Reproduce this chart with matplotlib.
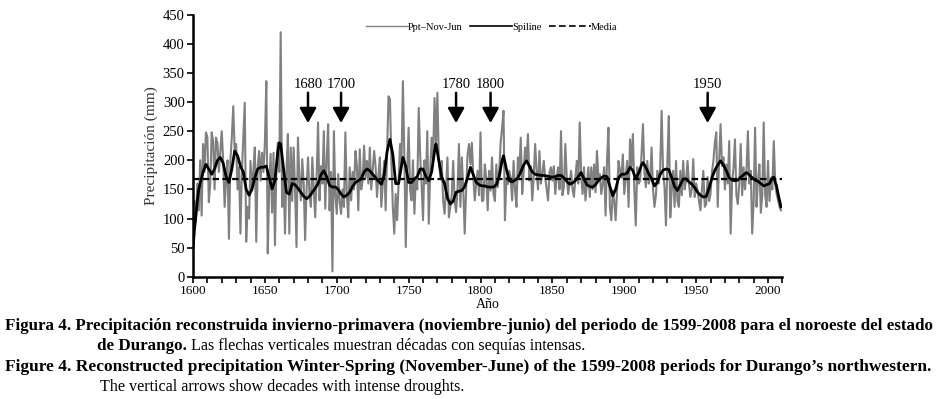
import numpy as np
import matplotlib
matplotlib.use("Agg")
import matplotlib.pyplot as plt
from matplotlib.lines import Line2D

plt.rcParams['font.family'] = ['Liberation Serif', 'DejaVu Serif']

# annual reconstructed precipitation (mm), one row per decade, 1600s ... 2000s
ppt = [
    55, 130, 95, 160, 114, 200, 105, 228, 180, 248,      # 1600s
    240, 128, 160, 248, 233, 150, 239, 230, 180, 215,    # 1610s
    250, 199, 120, 165, 200, 65, 199, 240, 293, 215,     # 1620s
    228, 150, 188, 74, 180, 239, 299, 60, 120, 100,      # 1630s
    199, 150, 182, 222, 60, 190, 216, 165, 213, 180,     # 1640s
    230, 336, 40, 150, 211, 110, 213, 54, 190, 230,      # 1650s
    180, 420, 120, 171, 74, 180, 245, 74, 222, 130,      # 1660s
    222, 150, 51, 239, 170, 131, 202, 160, 63, 150,      # 1670s
    205, 140, 120, 205, 150, 102, 170, 265, 131, 190,    # 1680s
    160, 250, 117, 200, 262, 114, 180, 9, 250, 140,      # 1690s
    108, 176, 130, 108, 150, 120, 248, 140, 102, 188,    # 1700s
    131, 180, 150, 216, 190, 114, 219, 150, 165, 225,    # 1710s
    170, 199, 160, 222, 150, 182, 216, 190, 137, 175,    # 1720s
    205, 120, 160, 199, 114, 210, 310, 305, 200, 120,    # 1730s
    74, 142, 97, 160, 228, 190, 336, 210, 51, 180,       # 1740s
    256, 150, 131, 200, 108, 170, 150, 290, 210, 160,    # 1750s
    97, 200, 160, 250, 91, 180, 239, 200, 307, 230,      # 1760s
    316, 200, 171, 199, 130, 108, 150, 205, 102, 120,    # 1770s
    140, 199, 130, 111, 150, 228, 120, 205, 150, 74,     # 1780s
    150, 210, 228, 193, 230, 170, 131, 160, 182, 140,    # 1790s
    248, 130, 131, 193, 170, 114, 182, 148, 205, 142,    # 1800s
    130, 193, 154, 180, 230, 256, 285, 97, 170, 159,     # 1810s
    182, 170, 131, 199, 150, 120, 205, 180, 239, 142,    # 1820s
    180, 222, 200, 245, 165, 190, 131, 170, 228, 182,    # 1830s
    150, 216, 160, 176, 199, 170, 150, 131, 180, 188,    # 1840s
    165, 190, 142, 170, 188, 150, 250, 140, 154, 228,    # 1850s
    170, 142, 160, 182, 150, 137, 170, 199, 160, 265,    # 1860s
    175, 142, 188, 131, 160, 188, 137, 188, 150, 193,    # 1870s
    145, 216, 170, 176, 142, 160, 188, 105, 200, 256,    # 1880s
    120, 97, 148, 130, 97, 150, 199, 182, 170, 210,      # 1890s
    142, 170, 199, 120, 236, 190, 245, 150, 88, 188,     # 1900s
    160, 165, 210, 262, 180, 154, 199, 160, 171, 222,    # 1910s
    150, 120, 140, 182, 160, 188, 285, 180, 154, 88,     # 1920s
    200, 276, 102, 150, 182, 120, 199, 130, 120, 182,    # 1930s
    140, 199, 150, 165, 199, 160, 137, 150, 202, 137,    # 1940s
    160, 148, 130, 114, 150, 182, 120, 125, 171, 130,    # 1950s
    142, 180, 199, 230, 248, 120, 200, 262, 190, 205,    # 1960s
    150, 193, 160, 233, 74, 160, 188, 236, 140, 125,     # 1970s
    160, 228, 140, 188, 150, 182, 250, 160, 182, 74,     # 1980s
    130, 256, 120, 165, 193, 110, 140, 265, 142, 120,    # 1990s
    199, 130, 165, 150, 233, 160, 142, 131, 120, 114,    # 2000s
]
years = np.arange(1600, 1600 + len(ppt))

# spline values
spl_years = [1600, 1601, 1602, 1603, 1604, 1605, 1607, 1609, 1611, 1613, 1615, 1617, 1619,
             1621, 1623, 1625, 1627, 1629, 1631, 1633, 1635, 1637, 1639, 1641, 1643, 1645,
             1647, 1649, 1651, 1653, 1655, 1657, 1659, 1660, 1661, 1663, 1665, 1667, 1669,
             1671, 1673, 1675, 1677, 1679, 1681, 1683, 1685, 1687, 1689, 1691, 1693, 1695,
             1697, 1699, 1701, 1703, 1705, 1707, 1709, 1711, 1713, 1715, 1717, 1719, 1721,
             1723, 1725, 1727, 1729, 1731, 1733, 1735, 1737, 1739, 1741, 1743, 1745, 1746,
             1748, 1750, 1752, 1754, 1756, 1758, 1760, 1762, 1764, 1766, 1768, 1769, 1771,
             1773, 1775, 1777, 1779, 1781, 1783, 1785, 1787, 1789, 1791, 1793, 1795, 1797,
             1799, 1801, 1803, 1805, 1807, 1809, 1811, 1813, 1815, 1816, 1818, 1820, 1822,
             1824, 1826, 1828, 1830, 1832, 1834, 1836, 1838, 1840, 1842, 1844, 1846, 1848,
             1850, 1852, 1854, 1856, 1858, 1860, 1862, 1864, 1866, 1868, 1870, 1872, 1874,
             1876, 1878, 1880, 1882, 1884, 1886, 1888, 1890, 1892, 1894, 1896, 1898, 1900,
             1902, 1904, 1906, 1908, 1910, 1912, 1913, 1915, 1917, 1919, 1921, 1923, 1925,
             1927, 1929, 1931, 1933, 1935, 1937, 1939, 1941, 1943, 1945, 1947, 1949, 1951,
             1953, 1955, 1957, 1959, 1961, 1963, 1965, 1967, 1969, 1971, 1973, 1975, 1977,
             1979, 1981, 1983, 1985, 1987, 1989, 1991, 1993, 1995, 1997, 1999, 2001, 2003,
             2004, 2006, 2007, 2009]
spl_vals = [50, 80, 105, 130, 150, 160, 180, 193, 185, 176, 185, 200, 205,
            195, 172, 162, 185, 216, 208, 190, 180, 150, 140, 150, 170, 185,
            188, 188, 190, 170, 151, 165, 215, 230, 228, 185, 145, 142, 160,
            158, 152, 145, 138, 134, 138, 145, 152, 160, 175, 182, 172, 157,
            154, 154, 150, 142, 137, 140, 145, 155, 162, 165, 168, 180, 185,
            182, 176, 170, 164, 159, 175, 215, 236, 210, 160, 160, 190, 205,
            190, 162, 162, 168, 172, 185, 185, 172, 165, 180, 215, 228, 200,
            171, 160, 135, 125, 130, 145, 147, 148, 155, 170, 188, 175, 162,
            158, 156, 156, 154, 154, 154, 158, 172, 200, 208, 185, 165, 163,
            166, 170, 180, 192, 199, 190, 180, 176, 175, 174, 174, 173, 172,
            171, 172, 174, 174, 170, 164, 159, 161, 165, 172, 179, 168, 158,
            155, 154, 158, 165, 170, 173, 172, 155, 139, 150, 170, 176, 176,
            178, 188, 182, 168, 178, 192, 196, 188, 177, 168, 156, 162, 176,
            183, 185, 184, 170, 155, 148, 158, 168, 168, 163, 159, 153, 145,
            140, 137, 138, 152, 170, 183, 192, 199, 192, 182, 170, 166, 165,
            166, 171, 175, 179, 175, 170, 166, 164, 160, 156, 158, 160, 170,
            171, 155, 142, 120]

media = 168

drought_x = [1680, 1703, 1783, 1807, 1958]
drought_labels = ['1680', '1700', '1780', '1800', '1950']

grey = '#808080'

fig = plt.figure(figsize=(9.36, 3.99), dpi=100)
ax = fig.add_axes([193 / 936, 122.3 / 399, 589.4 / 936, 261.9 / 399])

ax.plot(years, ppt, color=grey, lw=1.5, zorder=1)
ax.plot([1600, 2010], [media, media], color='black', lw=1.6, ls=(0, (2.9, 1.5)), zorder=2)
ax.plot(spl_years, spl_vals, color='black', lw=2.0, zorder=3)

ax.set_xlim(1600, 2010)
ax.set_ylim(0, 450)
ax.set_xticks(range(1600, 2001, 50))
ax.set_xticks(range(1600, 2011, 10), minor=True)
ax.set_yticks(range(0, 451, 50))
for s in ['top', 'right']:
    ax.spines[s].set_visible(False)
for s in ['left', 'bottom']:
    ax.spines[s].set_linewidth(1.8)
ax.tick_params(which='both', direction='out', length=4, width=1.2, pad=2)
ax.tick_params(axis='y', labelsize=10.5)
ax.tick_params(axis='x', labelsize=9.5)

ax.set_ylabel('Precipitación (mm)', fontsize=11, color='#333333', labelpad=3)
ax.set_xlabel('Año', fontsize=10, labelpad=1)

# drought arrows
for x, lab in zip(drought_x, drought_labels):
    ax.annotate('', xy=(x, 264), xytext=(x, 316),
                arrowprops=dict(arrowstyle='-|>,head_width=0.5,head_length=0.9',
                                lw=1.8, color='black', shrinkA=0, shrinkB=0))
    ax.text(x, 331, lab, ha='center', va='center', fontsize=10.5)

handles = [Line2D([], [], color=grey, lw=1),
           Line2D([], [], color='black', lw=1.2),
           Line2D([], [], color='black', lw=1.2, ls=(0, (4, 2)))]
ax.legend(handles, ['Ppt\u2013Nov-Jun', 'Spiline', 'Media'], ncol=3, frameon=False,
          fontsize=7.5, handlelength=4.0, handletextpad=0.05, columnspacing=0.7,
          loc='center', bbox_to_anchor=(0.507, 0.953))

# caption
fig.canvas.draw()
r = fig.canvas.get_renderer()


def fit(t, target):
    w = t.get_window_extent(r).width
    t.set_fontsize(t.get_fontsize() * target / w)


l1 = fig.text(5 / 936, 1 - 326 / 399,
              'Figura 4. Precipitación reconstruida invierno-primavera (noviembre-junio) del periodo '
              'de 1599-2008 para el noroeste del estado',
              fontsize=11, fontweight='bold', va='center')
fit(l1, 925)
fs = l1.get_fontsize()

l3 = fig.text(5 / 936, 1 - 367 / 399,
              'Figure 4. Reconstructed precipitation Winter-Spring (November-June) of the 1599-2008 '
              'periods for Durango\u2019s northwestern.',
              fontsize=11, fontweight='bold', va='center')
fit(l3, 923)

l4 = fig.text(100 / 936, 1 - 387 / 399, 'The vertical arrows show decades with intense droughts.',
              fontsize=fs, va='center')
fit(l4, 367)
fs_reg = l4.get_fontsize()

l2a = fig.text(97 / 936, 1 - 346 / 399, 'de Durango.', fontsize=fs, fontweight='bold', va='center')
bb = l2a.get_window_extent(r)
fig.text((bb.x1 + 4) / 936, 1 - 346 / 399,
         'Las flechas verticales muestran décadas con sequías intensas.', fontsize=fs_reg, va='center')

fig.savefig('out.png', dpi=100)
